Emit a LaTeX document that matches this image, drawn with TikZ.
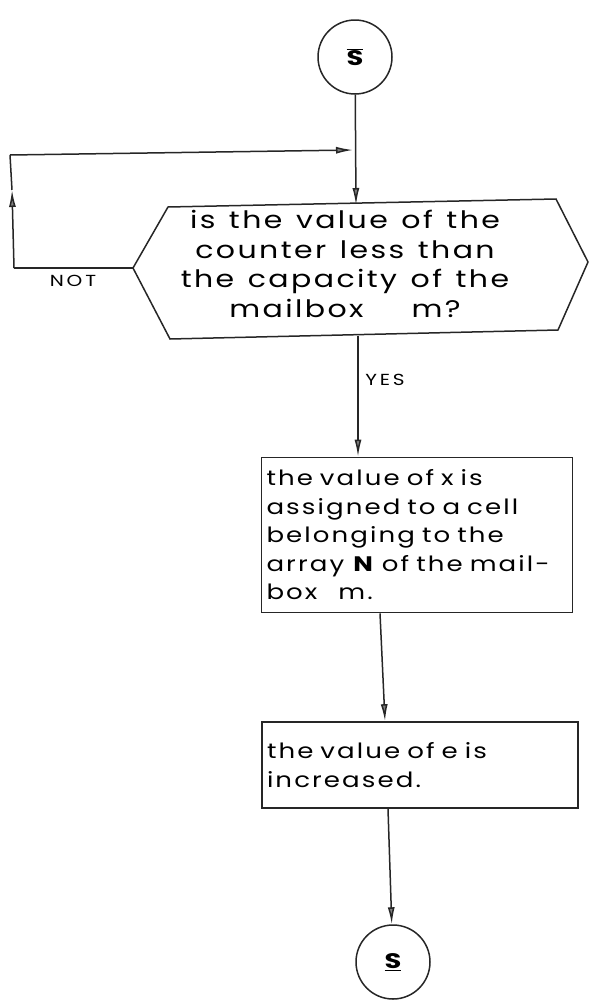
\documentclass[tikz,border=0pt]{standalone}
\usepackage{fontspec}
\setmainfont{Poppins}
\newfontfamily\hexfont{Poppins}[LetterSpace=10,FakeStretch=1.25,WordSpace=1.3]
\newfontfamily\boxfont{Poppins}[LetterSpace=10,FakeStretch=1.24,WordSpace=1.3]
\newfontfamily\lblfont{Poppins}[LetterSpace=18,FakeStretch=1.25]
\newfontfamily\markfont{Poppins}[FakeStretch=1.3]
\usetikzlibrary{arrows.meta}
\begin{document}
\begin{tikzpicture}[x=1pt,y=-1pt,
  line/.style={draw=black!85, line width=1.5pt},
  arr/.style={line, -{Latex[length=17pt,width=7pt,fill=black!50]}},
  connector/.style={circle, draw=black!85, line width=1.5pt, minimum size=74pt,
    inner sep=0pt, font=\markfont\bfseries\fontsize{21}{21}\selectfont},
  procbox/.style={draw=black!85, line width=1.7pt, rectangle, align=left,
    inner sep=5pt, font=\boxfont\fontsize{21}{28.5}\selectfont},
  question/.style={align=center, font=\hexfont\fontsize{24}{29.5}\selectfont},
  lbl/.style={font=\lblfont\fontsize{16}{16}\selectfont}
]
\useasboundingbox (0,0) rectangle (590,1004);

% entry and exit connectors
\node[connector] (s1) at (355,57) {$\overline{\hbox{S}}$};
\node[connector] (s2) at (393,962) {\underline{S}};

% decision hexagon
\coordinate (hL)  at (133,268);
\coordinate (hTL) at (168,207);
\coordinate (hTR) at (556,199);
\coordinate (hR)  at (588,262);
\coordinate (hBR) at (558,330);
\coordinate (hBL) at (170,339);
\draw[line] (hL) -- (hTL) -- (hTR) -- (hR) -- (hBR) -- (hBL) -- cycle;
\node[question] (q) at (345,264)
  {is the value of the\\counter less than\\the capacity of the\\mailbox\qquad m?};

% process boxes
\node[procbox, minimum width=311pt, minimum height=155pt, text width=301pt] (box1) at (417,535)
  {the value of x is\\assigned to a cell\\belonging to the\\array \textbf{N} of the mail-\\box\quad m.};
\node[procbox, minimum width=316pt, minimum height=86pt, text width=306pt] (box2) at (420,765)
  {the value of e is\\increased.};

% loop-back path
\coordinate (hIn)  at (356,205);
\coordinate (join) at (353,150);
\coordinate (lBot) at (14,268);
\coordinate (lMid) at (12,190);
\coordinate (lTop) at (10,155);
\coordinate (hOut) at (358,336);

\draw[arr] (s1) -- (hIn);
\draw[line] (hL) -- (lBot);
\draw[arr] (lBot) -- (lMid);
\draw[line] (lMid) -- (lTop);
\draw[arr] (lTop) -- (join);

\draw[arr] (hOut) -- (hOut |- box1.north);
\draw[arr] ([xshift=-37pt]box1.south) -- ([xshift=-35pt]box2.north);
\draw[arr] ([xshift=-32pt]box2.south) -- (s2);

% branch labels
\node[lbl] (no)  at (73,281) {NOT};
\node[lbl] (yes) at (385,380) {YES};
\end{tikzpicture}
\end{document}
